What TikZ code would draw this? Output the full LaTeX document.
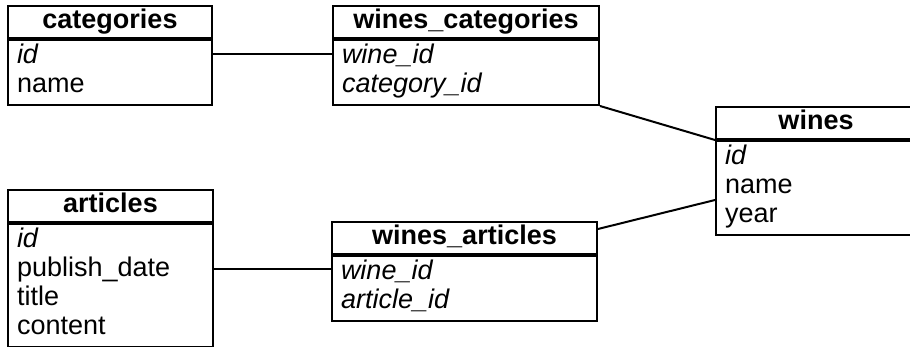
\documentclass[tikz,border=0pt]{standalone}
\usepackage{fontspec}
\setmainfont{Liberation Sans}
\usetikzlibrary{positioning}

\begin{document}
\begin{tikzpicture}[line width=2pt,
    head/.style={draw, inner sep=0pt, minimum height=32pt, text height=19pt, text depth=6pt, font=\fontsize{27}{29}\selectfont\bfseries},
    body/.style={draw, align=left, inner xsep=9pt, inner ysep=3.5pt, font=\fontsize{27}{29}\selectfont}]
  \useasboundingbox (0,0) rectangle (910pt,-347pt);

  \node[head, minimum width=204pt, anchor=north west] (cat-h) at (7pt,-5pt) {categories};
  \node[body, text width=186pt, below=0pt of cat-h] (cat-b) {\strut\textit{id}\\\strut name};
  \node[head, minimum width=266pt, right=119pt of cat-h] (wc-h) {wines\_categories};
  \node[body, text width=248pt, below=0pt of wc-h] (wc-b) {\strut\textit{wine\_id}\\\strut\textit{category\_id}};
  \node[head, minimum width=200pt, anchor=north west] (wn-h) at (715pt,-106pt) {wines};
  \node[body, text width=182pt, below=0pt of wn-h] (wn-b) {\strut\textit{id}\\\strut name\\\strut year};
  \node[head, minimum width=205pt, anchor=north west] (ar-h) at (7pt,-189pt) {articles};
  \node[body, text width=187pt, below=0pt of ar-h] (ar-b) {\strut\textit{id}\\\strut publish\_date\\\strut title\\\strut content};
  \node[head, minimum width=265pt, anchor=north west] (wa-h) at (331pt,-221pt) {wines\_articles};
  \node[body, text width=247pt, below=0pt of wa-h] (wa-b) {\strut\textit{wine\_id}\\\strut\textit{article\_id}};

  \draw ([yshift=-15pt]cat-b.north east) -- ([yshift=-15pt]cat-b.north east -| wc-b.west);
  \draw (wc-b.south east) -- (wn-b.north west);
  \draw ([yshift=-46pt]ar-b.north east) -- ([yshift=-46pt]ar-b.north east -| wa-b.west);
  \draw ([yshift=-8pt]wa-h.north east) -- ([yshift=-60pt]wn-b.north west);
\end{tikzpicture}
\end{document}
